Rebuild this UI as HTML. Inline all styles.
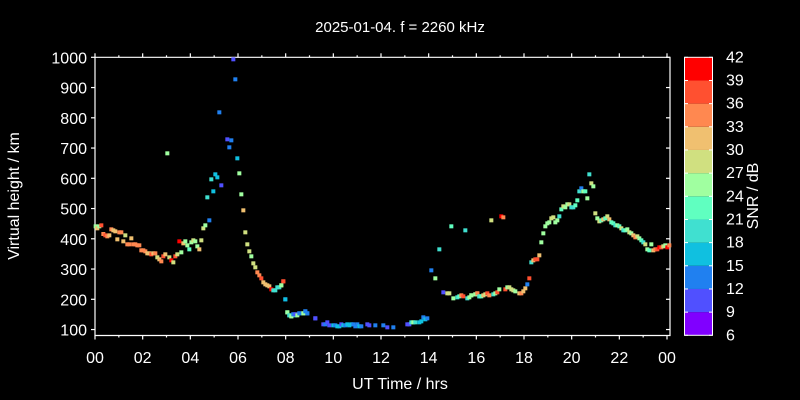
<!DOCTYPE html>
<html><head><meta charset="utf-8"><style>
html,body{margin:0;padding:0;background:#000;}
svg{display:block;font-family:"Liberation Sans",sans-serif;}
</style></head><body>
<svg id="s" width="800" height="400" xmlns="http://www.w3.org/2000/svg">
<rect width="800" height="400" fill="#000"/>
<text x="400" y="32" fill="#fff" font-size="15" text-anchor="middle">2025-01-04. f = 2260 kHz</text>
<g id="ax" stroke="#fff" stroke-width="1.2" fill="none"></g>
<g id="lab" fill="#fff" font-size="16"></g>
<g id="pts"></g>
<g id="cb"></g>
<text x="400" y="389" fill="#fff" font-size="16" text-anchor="middle">UT Time / hrs</text>
<text transform="translate(19,196) rotate(-90)" fill="#fff" font-size="16" text-anchor="middle">Virtual height / km</text>
<text transform="translate(758,196) rotate(-90)" fill="#fff" font-size="16" text-anchor="middle">SNR / dB</text>
</svg>
<script>
var NS="http://www.w3.org/2000/svg";
function el(p,t,a,txt){var e=document.createElementNS(NS,t);for(var k in a)e.setAttribute(k,a[k]);if(txt!==undefined)e.textContent=txt;p.appendChild(e);return e;}
var ax=document.getElementById('ax'),lab=document.getElementById('lab'),pts=document.getElementById('pts'),cb=document.getElementById('cb');
var L=95,R=667,T=57.3,B=335.5,RR=670;
el(ax,'path',{d:'M'+L+' '+T+' V'+B+' H'+RR+' V'+T+' Z'});
for(var i=0;i<=24;i++){var x=L+i*(R-L)/24;var big=i%2==0;
 el(ax,'line',{x1:x,y1:B,x2:x,y2:B+(big?4:2)});
 el(ax,'line',{x1:x,y1:T,x2:x,y2:T-(big?4:2)});
 if(big)el(lab,'text',{x:x,y:363,'text-anchor':'middle'},(i%24<10?'0':'')+(i%24));}
for(var v=100;v<=1000;v+=100){var y=57.3+(1000-v)*0.3025;
 el(ax,'line',{x1:L,y1:y,x2:L-4,y2:y});el(ax,'line',{x1:RR,y1:y,x2:RR-4,y2:y});
 el(lab,'text',{x:87,y:y+6,'text-anchor':'end'},v);}
var C={a:'#8000ff',b:'#5050ff',c:'#2080f0',d:'#10c0e0',e:'#40e0d0',f:'#60ffc0',g:'#a0ffa0',h:'#d0e080',i:'#f0c070',j:'#ff8850',k:'#ff5030',l:'#ff0000'};
var order='abcdefghijkl';
var bh=(335.3-57.3)/12;
for(var n=0;n<12;n++){var y0=335.3-(n+1)*bh;el(cb,'rect',{x:684.5,y:y0,width:28,height:bh,fill:C[order[n]]});}
el(cb,'rect',{x:684.5,y:57.3,width:28,height:278,fill:'none',stroke:'#fff','stroke-width':1});
for(var n=0;n<=12;n++){var y=335.3-n*bh;el(cb,'line',{x1:684.5,y1:y,x2:688,y2:y,stroke:'#fff'});el(cb,'line',{x1:712.5,y1:y,x2:709,y2:y,stroke:'#fff'});
 el(cb,'text',{x:726,y:y+5,fill:'#fff','font-size':16},6+3*n);}
var z1="107,559g 112,565i 118,559g 124,556k 130,582j 136,586k 142,589j 148,586i 154,568j 160,571i 166,574i 178,577j 184,577j 172,598i 190,604i 196,586h 202,613j 208,613j 214,595i 220,613j 226,613j 232,616j 238,616j 244,631j 250,631j 256,634j 262,640i 268,640i 274,643k 280,640i 286,640j 292,652h 298,658i 304,664j 310,649k 316,643i 322,340g 328,652h 334,661l 340,667h 346,649k 352,643h 358,604l 364,637g 370,610i 376,604g 382,616g 388,628f 394,607g 400,601h 406,604g 412,619g 418,628i 424,601h 430,565h 436,556g 442,472e 448,541c 454,418e 460,454d 466,403d 472,412d 478,217c 484,436b 502,298b 508,322c 514,301c 520,58b 526,118c 532,355d 538,400g 544,463g 550,511i 556,577h 562,613h 568,634h 574,649g 580,670h 586,682h 592,697j 598,706j 604,715k 610,727i 616,733i 622,736i 628,739i 634,748l 640,751e 646,751e 652,742e 658,742e 664,736g 670,724k 676,778c 682,817f 688,826e 694,829g 700,823b 706,826e 712,823g 718,820c 730,820g 736,814c 742,820c 766,835b";
var z3="10,304k 4,316g 16,358d 22,397g 28,406e 34,409g 40,403c 46,403b 52,406g 58,400c 70,400g 76,394c 82,400c 106,415b 130,433b 136,433c 142,427b 148,436b 160,436d 166,436c 172,439d 178,439d 184,433b 190,436d 196,436c 202,433d 208,436d 214,433d 220,433c 226,439c 232,433c 238,439d 244,439c 262,433b 268,436b 286,436c 310,436c 322,442b 340,442c 382,433b 388,433b 394,427e 400,427g 406,427e 418,427d 424,424d 430,412c 436,418d 442,415c 454,271c 466,295g 478,208e 490,337b 502,340h 508,340h 514,139f 520,355g 532,352e 538,349f 544,346j 550,349k 556,151e 562,355e 568,352g 574,346g 586,343h 592,340j 598,349f";
var z4="4,406g 16,403g 22,400j 28,409e 34,409f 40,406i 46,403h 52,400k 58,406j 70,403e 76,400g 82,397k 88,388g 106,388k 112,382g 118,382h 124,388h 130,391h 136,394g 148,400i 154,400j 160,394i 166,385i 172,373c 178,355k 184,307e 190,301i 196,298k 202,298k 208,286i 214,247g 220,220g 226,199g 232,190g 238,187g 244,175h 250,172h 256,187g 262,181g 268,169e 274,148f 280,139h 286,142g 292,133g 298,133h 304,142e 310,142e 316,136f 322,121f 328,94e 334,85c 340,94g 346,94f 352,115g 358,43e 364,70h 370,79g 376,160h 382,175g 388,184h 394,181f 400,178i 406,175f 412,169h 418,178i 424,187f 430,190f 436,196e 442,196g 448,199f 454,205h 460,211e 466,211f 472,208g 478,217h 484,220g 490,226i 496,232j 502,229h 508,235g 514,241f 520,247e 526,253h 532,268g 538,271f 544,253g 550,271i 556,268j 562,268k 568,262l 574,262k 580,259h 586,256g 592,262l 598,256j 64,181h 94,169l 100,172j";
function plot(s,ox,oy){s.split(' ').forEach(function(t){var c=t.slice(-1),p=t.slice(0,-1).split(',');
 var x=ox+(+p[0])/3,y=oy+(+p[1])/3;el(pts,'rect',{x:x-2,y:y-2,width:4,height:4,fill:C[c]});});}
plot(z1,60,40);plot(z3,280,180);plot(z4,470,160);
</script>
</body></html>
